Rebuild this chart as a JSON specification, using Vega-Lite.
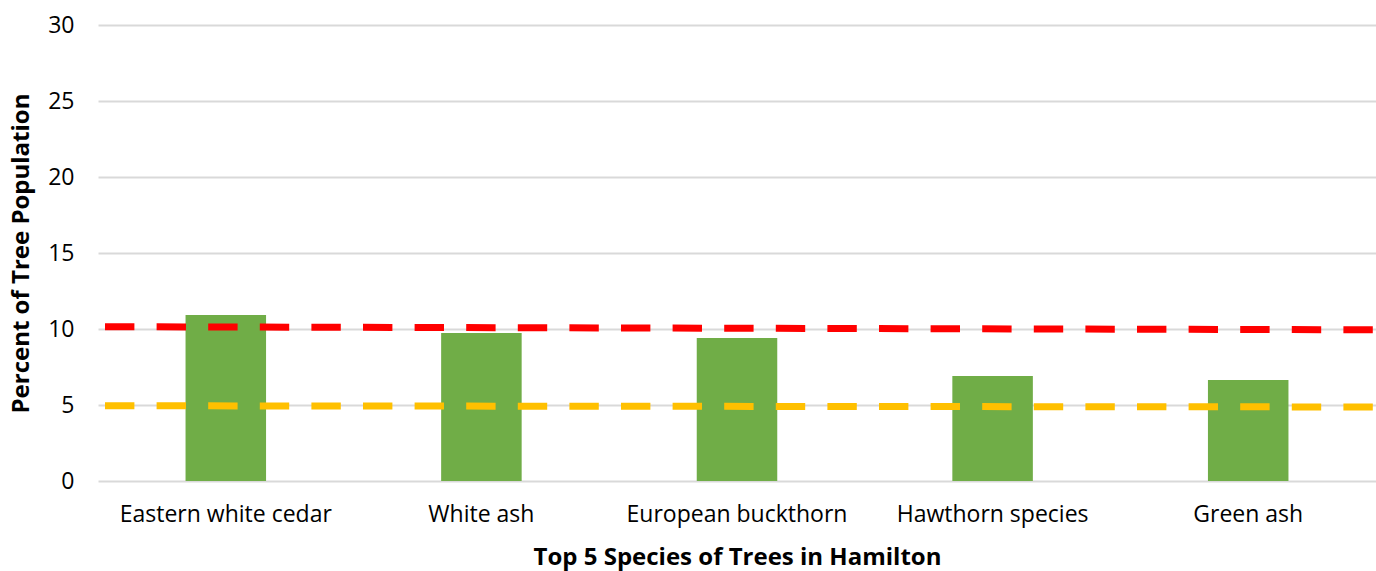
{
  "$schema": "https://vega.github.io/schema/vega-lite/v6.json",
  "width": 1278,
  "height": 456,
  "autosize": {"type": "none"},
  "padding": {"left": 98, "top": 25, "right": 0, "bottom": 90},
  "config": {"view": {"stroke": null}, "font": "Open Sans"},
  "layer": [
    {
      "data": {"values": [
        {"species": "Eastern white cedar", "percent": 10.92},
        {"species": "White ash", "percent": 9.74},
        {"species": "European buckthorn", "percent": 9.41},
        {"species": "Hawthorn species", "percent": 6.9},
        {"species": "Green ash", "percent": 6.64}
      ]},
      "mark": {"type": "bar", "color": "#70ad47", "width": {"band": 0.315}},
      "encoding": {
        "x": {
          "field": "species", "type": "nominal", "sort": null,
          "scale": {"paddingInner": 0, "paddingOuter": 0},
          "axis": {
            "title": "Top 5 Species of Trees in Hamilton",
            "titleFontSize": 24, "titleFontWeight": "bold", "titleColor": "#000000", "titlePadding": 19,
            "labelAngle": 0, "labelFontSize": 23, "labelColor": "#000000", "labelPadding": 22, "labelLimit": 0,
            "domain": false, "ticks": false, "grid": false
          }
        },
        "y": {
          "field": "percent", "type": "quantitative",
          "scale": {"domain": [0, 30]},
          "axis": {
            "title": "Percent of Tree Population",
            "titleFontSize": 24, "titleFontWeight": "bold", "titleColor": "#000000", "titlePadding": 14,
            "values": [0, 5, 10, 15, 20, 25, 30],
            "labelFontSize": 23, "labelColor": "#000000", "labelPadding": 24,
            "domain": false, "ticks": false,
            "grid": true, "gridColor": "#d9d9d9", "gridWidth": 2
          }
        }
      }
    },
    {
      "data": {"values": [
        {"pos": 0, "level": 10.15, "series": "red"},
        {"pos": 1, "level": 9.95, "series": "red"},
        {"pos": 0, "level": 4.95, "series": "yellow"},
        {"pos": 1, "level": 4.87, "series": "yellow"}
      ]},
      "mark": {"type": "line", "strokeDash": [29.4, 22.2], "strokeDashOffset": 44.6, "strokeWidth": 7, "strokeCap": "butt"},
      "encoding": {
        "x": {"field": "pos", "type": "quantitative", "scale": {"domain": [0, 1], "nice": false, "zero": false}, "axis": null},
        "y": {"field": "level", "type": "quantitative"},
        "color": {"field": "series", "type": "nominal", "scale": {"domain": ["red", "yellow"], "range": ["#ff0000", "#ffc000"]}, "legend": null}
      }
    }
  ],
  "resolve": {"scale": {"x": "independent"}}
}
